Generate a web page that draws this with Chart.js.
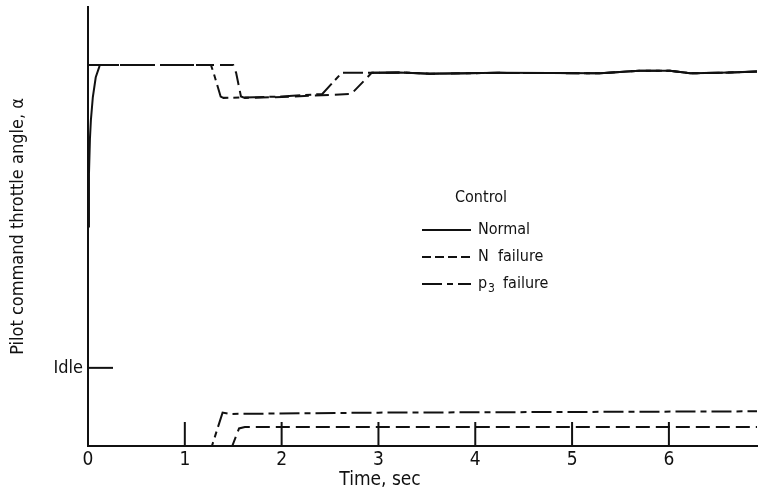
<!DOCTYPE html>
<html>
<head>
<meta charset="utf-8">
<script src="https://cdn.jsdelivr.net/npm/chart.js@4.4.1/dist/chart.umd.min.js"></script>
<style>
  html, body { margin: 0; padding: 0; background: #fff; }
  #wrap { width: 761px; height: 497px; }
</style>
</head>
<body>
<div id="wrap"><canvas id="throttle"></canvas></div>
<script>
// ---- Données : angle de commande pilote (unités arbitraires, 0-100) ----
const timeTicks = [0, 1, 2, 3, 4, 5, 6]
const idleAngle = 17.8

// Normal : montée rapide puis palier final (pas de trait visible au milieu)
const normalTime  = [0, 0.01, 0.02, 0.03, 0.05, 0.08, 0.12, 1.5, 2.93, 3.22, 3.53, 4.25, 5.29, 5.70, 6.01, 6.22, 6.53, 6.91]
const normalAngle = [50, 62, 70, 74.3, 79.5, 84, 86.6, null, 85.0, 85.1, 84.8, 85.0, 84.9, 85.5, 85.5, 84.9, 85.0, 85.3]

// Panne capteur p3 (haut) : chute vers 1,3 s
const p3FailTime  = [0, 1.27, 1.30, 1.37, 1.40, 2.0, 2.42, 2.62, 2.93, 3.22, 3.53, 4.25, 5.29, 5.70, 6.01, 6.22, 6.53, 6.91]
const p3FailAngle = [86.8, 86.8, 84.8, 79.6, 79.3, 79.6, 80.2, 85.0, 85.0, 85.1, 84.8, 85.0, 84.9, 85.5, 85.5, 84.9, 85.0, 85.3]

// Panne capteur N (haut) : chute vers 1,5 s
const nFailTime  = [0, 1.50, 1.53, 1.58, 1.62, 2.0, 2.72, 2.93, 3.22, 3.53, 4.25, 5.29, 5.70, 6.01, 6.22, 6.53, 6.91]
const nFailAngle = [86.8, 86.8, 85.0, 79.6, 79.3, 79.5, 80.2, 85.0, 85.1, 84.8, 85.0, 84.9, 85.5, 85.5, 84.9, 85.0, 85.3]

// Traces basses
const p3LowTime  = [0, 1.28, 1.39, 1.46, 3.0, 6.91]
const p3LowAngle = [0, 0, 7.6, 7.3, 7.6, 7.9]
const nLowTime   = [0, 1.49, 1.56, 1.62, 6.91]
const nLowAngle  = [0, 0, 4.0, 4.3, 4.3]

const FONT = "'DejaVu Sans Condensed', 'Liberation Sans Narrow', sans-serif"
const INK = '#111'
const DASH_N = [14, 6]
const DASH_P3 = [20, 5, 6, 5]

const pts = (xs, ys) => xs.map((x, i) => ({ x: x, y: ys[i] }))

const serie = (data, dash, offset) => ({
  data: data,
  borderColor: INK,
  borderWidth: 2,
  borderDash: dash,
  borderDashOffset: offset || 0,
  pointRadius: 0,
  tension: 0,
  spanGaps: false,
  clip: false
})

// ---- Graduations intérieures, titre de l'axe x et légende ----
const decor = {
  id: 'decor',
  afterDraw(chart) {
    const ctx = chart.ctx
    const x = chart.scales.x
    const y = chart.scales.y
    ctx.save()
    ctx.strokeStyle = INK
    ctx.lineWidth = 2
    ctx.setLineDash([])
    timeTicks.slice(1).forEach(t => {
      const px = x.getPixelForValue(t)
      ctx.beginPath()
      ctx.moveTo(px, y.bottom)
      ctx.lineTo(px, y.bottom - 24)
      ctx.stroke()
    })
    const py = y.getPixelForValue(idleAngle)
    ctx.beginPath()
    ctx.moveTo(x.left, py)
    ctx.lineTo(x.left + 25, py)
    ctx.stroke()

    ctx.fillStyle = INK
    ctx.textBaseline = 'middle'

    // titre de l'axe des temps
    ctx.textAlign = 'center'
    ctx.font = '19px ' + FONT
    ctx.fillText('Time, sec', 380, 480)

    // légende
    ctx.textAlign = 'left'
    ctx.font = '16px ' + FONT
    ctx.fillText('Control', 455, 198)
    const rows = [
      { label: 'Normal', dash: [], y: 230 },
      { label: 'N  failure', dash: [9, 4], y: 257 },
      { label: 'p', dash: DASH_P3, y: 284 }
    ]
    rows.forEach(r => {
      ctx.setLineDash(r.dash)
      ctx.beginPath()
      ctx.moveTo(422, r.y)
      ctx.lineTo(471, r.y)
      ctx.stroke()
      ctx.fillText(r.label, 478, r.y)
    })
    ctx.setLineDash([])
    ctx.font = '12px ' + FONT
    ctx.fillText('3', 488, 289)
    ctx.font = '16px ' + FONT
    ctx.fillText('failure', 503, 284)
    ctx.restore()
  }
}

new Chart(document.getElementById('throttle'), {
  type: 'line',
  data: {
    datasets: [
      serie(pts(normalTime, normalAngle), []),
      serie(pts(p3FailTime, p3FailAngle), DASH_P3),
      serie(pts(nFailTime, nFailAngle), DASH_N, 8),
      serie(pts(p3LowTime, p3LowAngle), DASH_P3),
      serie(pts(nLowTime, nLowAngle), DASH_N)
    ]
  },
  options: {
    responsive: true,
    maintainAspectRatio: false,
    animation: false,
    layout: { padding: { top: 7, right: 4, left: 0, bottom: 0 } },
    plugins: {
      legend: { display: false },
      tooltip: { enabled: false }
    },
    scales: {
      x: {
        type: 'linear',
        min: 0,
        max: 6.91,
        afterBuildTicks: s => { s.ticks = timeTicks.map(v => ({ value: v })) },
        afterFit: s => { s.height = 51 },
        grid: { display: false, drawTicks: false },
        border: { display: true, color: INK, width: 2 },
        ticks: {
          color: INK,
          padding: 3,
          font: { family: FONT, size: 19 },
          callback: v => String(v)
        },
        title: { display: false }
      },
      y: {
        type: 'linear',
        min: 0,
        max: 100,
        afterBuildTicks: s => { s.ticks = [{ value: idleAngle }] },
        afterFit: s => {
          s.width = 88
          s.paddingTop = 0
          s.paddingBottom = 0
        },
        grid: { display: false, drawTicks: false },
        border: { display: true, color: INK, width: 2 },
        ticks: {
          color: INK,
          padding: 5,
          font: { family: FONT, size: 18 },
          callback: () => 'Idle'
        },
        title: {
          display: true,
          text: 'Pilot command throttle angle, α',
          color: INK,
          font: { family: FONT, size: 18 },
          padding: { top: 8, bottom: 0 }
        }
      }
    }
  },
  plugins: [decor]
})
</script>
</body>
</html>
